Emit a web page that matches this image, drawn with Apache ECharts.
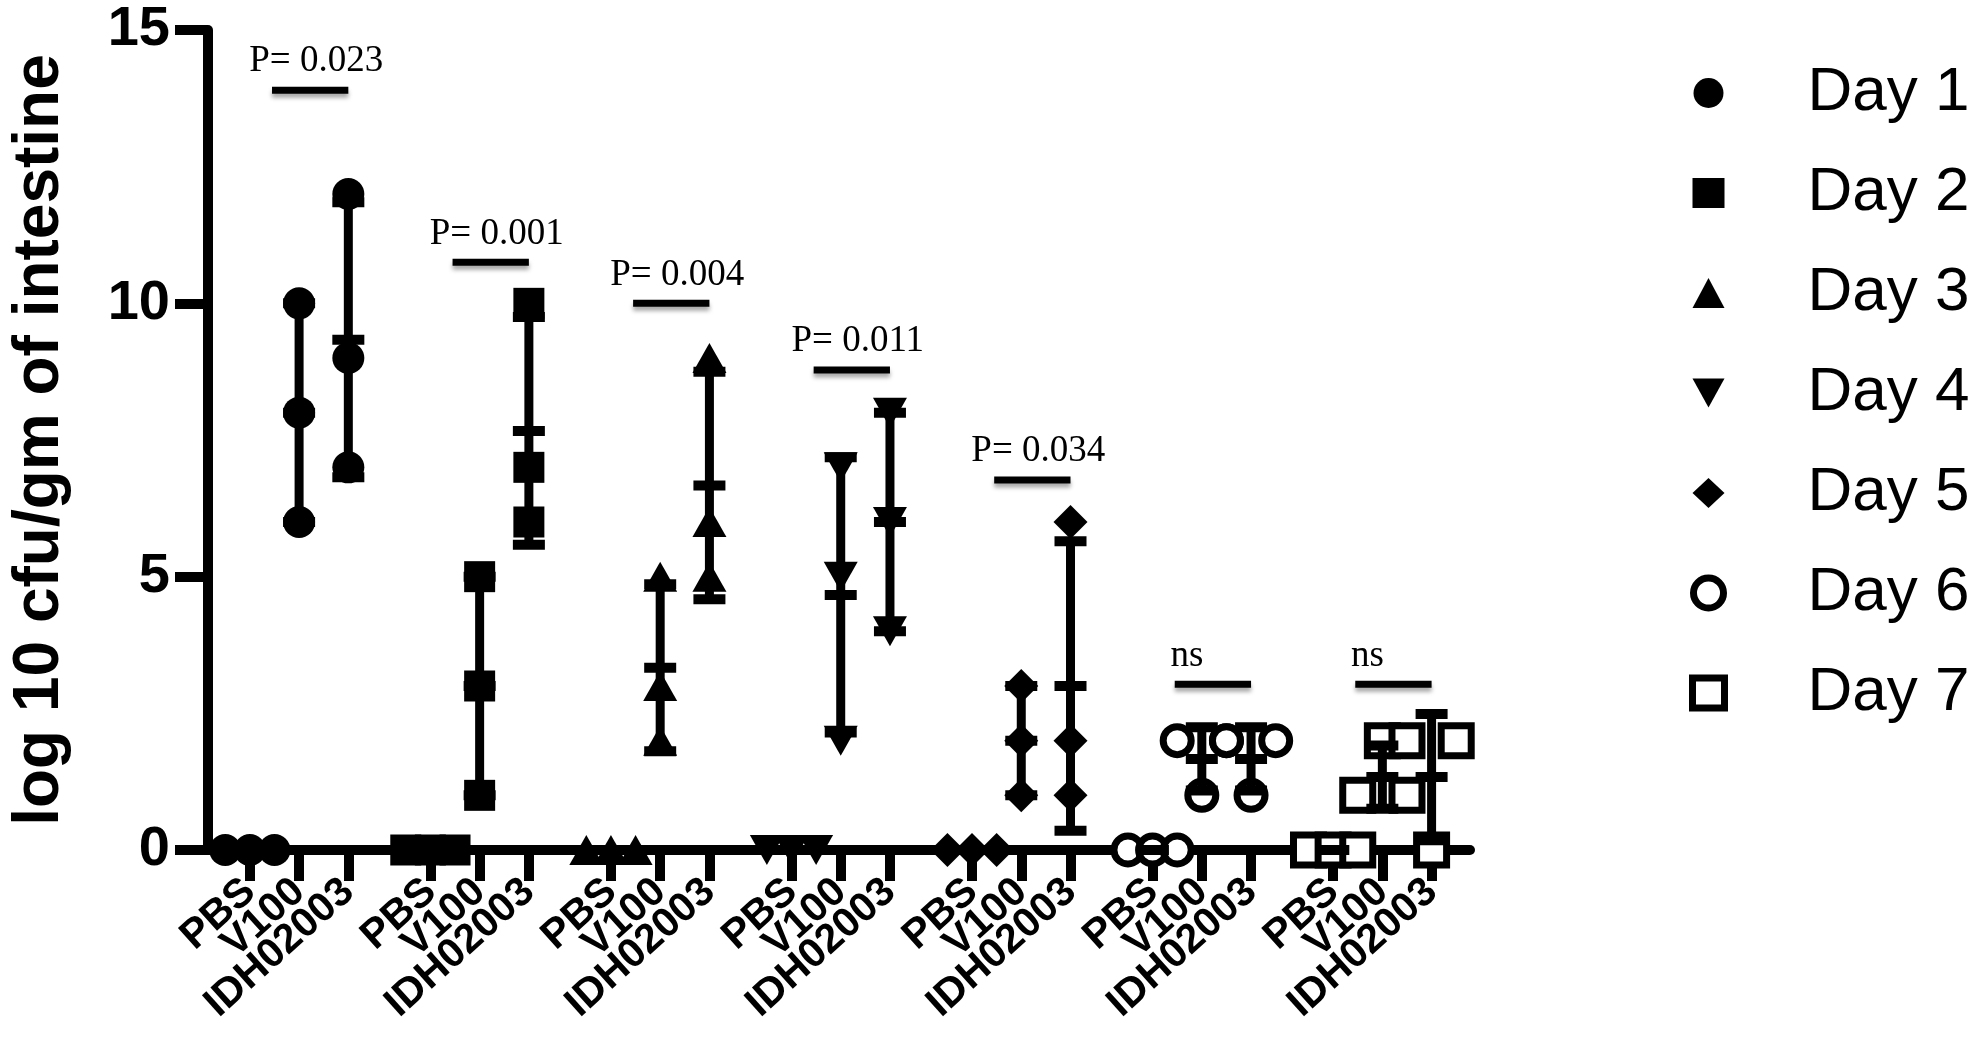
<!DOCTYPE html>
<html>
<head>
<meta charset="utf-8">
<script src="https://cdn.jsdelivr.net/npm/echarts@6/dist/echarts.min.js"></script>
<style>
  html, body { margin: 0; padding: 0; background: #fff; }
  #chart { width: 1988px; height: 1044px; }
</style>
</head>
<body>
<div id="chart"></div>
<script>
// groups along the x axis
const days = ['Day 1', 'Day 2', 'Day 3', 'Day 4', 'Day 5', 'Day 6', 'Day 7']
const treatments = ['PBS', 'V100', 'IDH02003']

// log10 cfu per gm, three mice per column
const pbsValues = [[0, 0, 0], [0, 0, 0], [0, 0, 0], [0, 0, 0], [0, 0, 0], [0, 0, 0], [0, 0, 0]]
const v100Values = [[6, 8, 10], [1, 3, 5], [2, 3, 5], [2, 5, 7], [1, 2, 3], [2, 2, 1], [2, 1, 1]]
const idhValues = [[7, 9, 12], [6, 7, 10], [5, 6, 9], [4, 6, 8], [1, 2, 6], [2, 2, 1], [2, 2, 0]]

// V100 vs IDH02003
const pLabels = ['P= 0.023', 'P= 0.001', 'P= 0.004', 'P= 0.011', 'P= 0.034', 'ns', 'ns']
const pBarLevel = [13.9, 10.75, 10.0, 8.78, 6.77, 3.03, 3.03]

const yTicks = [0, 5, 10, 15]

const symbols = ['circle', 'rect', 'triangle', 'triangle', 'diamond', 'circle', 'rect']
const symbolSizes = [32, 31, [34, 30], [34, 30], [34, 34], 28, 30]
const hollow = [false, false, false, false, false, true, true]

const groupStep = 11 / 3
const xMin = -0.85
const xMax = 24.78
const xPos = (g, j) => g * groupStep + j

// spread tied values sideways like a column scatter
function spread(vals) {
  return vals.map((v, i) => {
    const same = []
    vals.forEach((w, k) => { if (w === v) same.push(k) })
    const n = same.length
    return n > 1 ? (same.indexOf(i) - (n - 1) / 2) / (n - 1) : 0
  })
}

function meanSd(vals) {
  const m = vals.reduce((a, b) => a + b, 0) / vals.length
  const v = vals.reduce((a, b) => a + (b - m) * (b - m), 0) / (vals.length - 1)
  return [m, Math.sqrt(v)]
}

const tickPos = []
const tickText = []
days.forEach((d, g) => treatments.forEach((t, j) => {
  tickPos.push(xPos(g, j))
  tickText.push(t)
}))
// blank labels at both ends so the real end labels are never dropped
const labelPos = [xMin].concat(tickPos, [xMax])

const scatterSeries = days.map((d, g) => {
  const data = []
  const cols = [pbsValues[g], v100Values[g], idhValues[g]]
  cols.forEach((vals, j) => {
    const offs = spread(vals)
    vals.forEach((v, i) => data.push([xPos(g, j) + offs[i], v]))
  })
  return {
    name: d,
    type: 'scatter',
    data: data,
    symbol: symbols[g],
    symbolSize: symbolSizes[g],
    symbolRotate: g === 3 ? 180 : 0,
    clip: false,
    z: 3,
    itemStyle: hollow[g]
      ? { color: '#fff', borderColor: '#000', borderWidth: 7, opacity: 1 }
      : { color: '#000', opacity: 1 }
  }
})

const errData = []
days.forEach((d, g) => {
  [pbsValues[g], v100Values[g], idhValues[g]].forEach((vals, j) => {
    const ms = meanSd(vals)
    errData.push([xPos(g, j), ms[0] - ms[1], ms[0], ms[0] + ms[1]])
  })
})

const sigData = days.map((d, g) => [xPos(g, 1) - 0.55, xPos(g, 2), pBarLevel[g], g])

const chart = echarts.init(document.getElementById('chart'))

const option = {
  animation: false,
  backgroundColor: '#fff',
  grid: { left: 202, right: 518, top: 30, bottom: 194, containLabel: false },
  legend: {
    orient: 'vertical',
    left: 1684,
    top: 57,
    itemWidth: 32,
    itemHeight: 30,
    itemGap: 38,
    textStyle: {
      fontFamily: 'Liberation Sans',
      fontSize: 62,
      lineHeight: 60,
      color: '#000',
      padding: [0, 0, 0, 78]
    },
    data: days.map((d, g) => {
      if (hollow[g]) return { name: d, itemStyle: { color: '#fff', borderColor: '#000', borderWidth: 7 } }
      if (g === 3) return { name: d, icon: 'path://M0,0 L10,0 L5,9 Z' }
      return { name: d }
    })
  },
  xAxis: {
    type: 'value',
    min: xMin,
    max: xMax,
    axisLine: { show: true, onZero: false, lineStyle: { color: '#000', width: 10 } },
    axisTick: { show: true, length: 31, customValues: tickPos, lineStyle: { color: '#000', width: 10 } },
    axisLabel: {
      customValues: labelPos,
      hideOverlap: false,
      formatter: function (v) {
        const i = tickPos.findIndex(p => Math.abs(p - v) < 1e-6)
        return i >= 0 ? tickText[i] : ''
      },
      rotate: 42,
      margin: 36,
      color: '#000',
      fontFamily: 'Liberation Sans',
      fontWeight: 'bold',
      fontSize: 41
    },
    splitLine: { show: false }
  },
  yAxis: {
    type: 'value',
    min: yTicks[0],
    max: yTicks[yTicks.length - 1],
    interval: yTicks[1] - yTicks[0],
    name: 'log 10 cfu/gm of intestine',
    nameLocation: 'middle',
    nameGap: 136,
    nameTextStyle: {
      fontFamily: 'Liberation Sans',
      fontWeight: 'bold',
      fontSize: 64,
      color: '#000'
    },
    axisLine: { show: true, onZero: false, lineStyle: { color: '#000', width: 10 } },
    axisTick: { show: true, length: 33, lineStyle: { color: '#000', width: 10 } },
    axisLabel: {
      margin: 38,
      color: '#000',
      fontFamily: 'Liberation Sans',
      fontWeight: 'bold',
      fontSize: 56
    },
    splitLine: { show: false }
  },
  series: scatterSeries.concat([
    {
      name: 'sd',
      type: 'custom',
      data: errData,
      clip: false,
      z: 4,
      silent: true,
      encode: { x: 0, y: [1, 2, 3] },
      renderItem: function (params, api) {
        const x = api.value(0)
        const lo = api.coord([x, api.value(1)])
        const mid = api.coord([x, api.value(2)])
        const hi = api.coord([x, api.value(3)])
        const hw = 16
        const cap = p => ({
          type: 'line',
          shape: { x1: p[0] - hw, y1: p[1], x2: p[0] + hw, y2: p[1] },
          style: { stroke: '#000', lineWidth: 10 }
        })
        return {
          type: 'group',
          children: [
            { type: 'line', shape: { x1: lo[0], y1: lo[1], x2: hi[0], y2: hi[1] }, style: { stroke: '#000', lineWidth: 9 } },
            cap(lo), cap(mid), cap(hi)
          ]
        }
      }
    },
    {
      name: 'sig',
      type: 'custom',
      data: sigData,
      clip: false,
      z: 5,
      silent: true,
      encode: { x: [0, 1], y: 2 },
      renderItem: function (params, api) {
        const a = api.coord([api.value(0), api.value(2)])
        const b = api.coord([api.value(1), api.value(2)])
        const label = pLabels[api.value(3)]
        const cx = (a[0] + b[0]) / 2 + (label === 'ns' ? -26 : 6)
        return {
          type: 'group',
          children: [
            {
              type: 'line',
              shape: { x1: a[0], y1: a[1], x2: b[0], y2: b[1] },
              style: { stroke: '#000', lineWidth: 7, shadowBlur: 4, shadowColor: 'rgba(0,0,0,0.35)', shadowOffsetY: 4 }
            },
            {
              type: 'text',
              x: cx,
              y: a[1] - 10,
              style: {
                text: label,
                font: '37px "Liberation Serif"',
                fill: '#000',
                align: 'center',
                verticalAlign: 'bottom'
              }
            }
          ]
        }
      }
    }
  ])
}

chart.setOption(option)
</script>
</body>
</html>
